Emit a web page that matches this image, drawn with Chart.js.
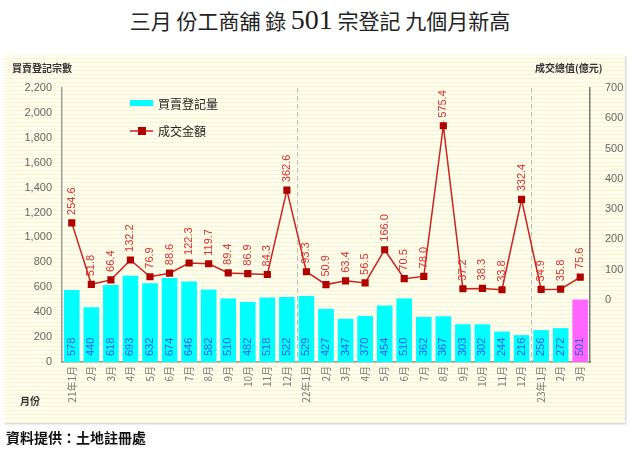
<!DOCTYPE html>
<html>
<head>
<meta charset="utf-8">
<script src="https://cdn.jsdelivr.net/npm/chart.js@4"></script>
<style>
  body { margin: 0; background: #fff; }
  #wrap { position: relative; width: 640px; height: 452px; overflow: hidden; }
  #panel { position: absolute; left: 4px; top: 55px; width: 621px; height: 368px;
    background: repeating-linear-gradient(to bottom, #fffeea 0px, #fffeea 3px, #f5f3da 3px, #f5f3da 4px);
    box-shadow: 1px 1px 2px #ccc; }
  #title { position: absolute; left: 0; top: 4px; width: 640px; text-align: center;
    font-family: "Noto Sans CJK TC", sans-serif; font-size: 21px; color: #222; }
  #title .num { font-family: "Liberation Serif", serif; font-size: 28px; }
  #foot { position: absolute; left: 6px; top: 427px; font-family: "Noto Sans CJK TC", sans-serif;
    font-size: 14px; font-weight: bold; color: #111; }
  canvas { position: absolute; left: 0; top: 0; }
</style>
</head>
<body>
<div id="wrap">
  <div id="panel"></div>
  <div id="title">三月 份工商舖 錄 <span class="num">501</span> 宗登記 九個月新高</div>
  <canvas id="chart" width="640" height="452"></canvas>
  <div id="foot">資料提供：土地註冊處</div>
</div>
<script>
// months
var months = ["21年1月","2月","3月","4月","5月","6月","7月","8月","9月","10月","11月","12月",
              "22年1月","2月","3月","4月","5月","6月","7月","8月","9月","10月","11月","12月",
              "23年1月","2月","3月"];
// 買賣登記量 (宗)
var registrations = [578,440,618,693,632,674,646,582,510,482,518,522,
                     529,427,347,370,454,510,362,367,303,302,244,216,
                     256,272,501];
// 成交金額 (億元)
var amounts = [254.6,51.8,66.4,132.2,76.9,88.6,122.3,119.7,89.4,86.9,84.3,362.6,
               93.3,50.9,63.4,56.5,166.0,70.5,78.0,575.4,37.2,38.3,33.8,332.4,
               34.9,35.8,75.6];
var leftTicks = [0,200,400,600,800,1000,1200,1400,1600,1800,2000,2200];
var rightTicks = [0,100,200,300,400,500,600,700];
var yearBreaks = [11, 23];

var barColors = registrations.map(function (v, i) {
  return i === registrations.length - 1 ? '#ff66ff' : '#00ffff';
});

var sansFont = '"Liberation Sans", Arial, sans-serif';
var cjkFont = '"Noto Sans CJK TC", sans-serif';

var extras = {
  id: 'extras',
  beforeDatasetsDraw: function (chart) {
    var ctx = chart.ctx, x = chart.scales.x, area = chart.chartArea;
    ctx.save();
    ctx.strokeStyle = '#bbbbbb';
    ctx.setLineDash([5, 3]);
    ctx.lineWidth = 1;
    yearBreaks.forEach(function (i) {
      var px = Math.round((x.getPixelForValue(i) + x.getPixelForValue(i + 1)) / 2) + 0.5;
      ctx.beginPath();
      ctx.moveTo(px, area.top);
      ctx.lineTo(px, area.bottom);
      ctx.stroke();
    });
    ctx.restore();
  },
  afterDatasetsDraw: function (chart) {
    var ctx = chart.ctx;
    var bars = chart.getDatasetMeta(0).data;
    var pts = chart.getDatasetMeta(1).data;
    ctx.save();
    ctx.font = '11px ' + sansFont;
    // bar labels
    ctx.fillStyle = '#2a5cf0';
    ctx.textAlign = 'left';
    ctx.textBaseline = 'middle';
    bars.forEach(function (b, i) {
      ctx.save();
      ctx.translate(b.x, chart.chartArea.bottom - 6);
      ctx.rotate(-Math.PI / 2);
      ctx.fillText(String(registrations[i]), 0, 0);
      ctx.restore();
    });
    // line labels
    ctx.fillStyle = '#e03030';
    pts.forEach(function (p, i) {
      ctx.save();
      ctx.translate(p.x, p.y - 8);
      ctx.rotate(-Math.PI / 2);
      ctx.fillText(amounts[i].toFixed(1), 0, 0);
      ctx.restore();
    });
    // legend
    ctx.fillStyle = '#00ffff';
    ctx.fillRect(130, 100, 23, 6);
    ctx.strokeStyle = '#cc2222';
    ctx.lineWidth = 1.5;
    ctx.beginPath();
    ctx.moveTo(130, 131);
    ctx.lineTo(153, 131);
    ctx.stroke();
    ctx.fillStyle = '#b00000';
    ctx.fillRect(138, 127, 8, 8);
    ctx.fillStyle = '#222';
    ctx.font = '12px ' + cjkFont;
    ctx.textAlign = 'left';
    ctx.fillText('買賣登記量', 158, 104);
    ctx.fillText('成交金額', 158, 131);
    // axis titles
    ctx.font = 'bold 10px ' + cjkFont;
    ctx.fillStyle = '#333';
    ctx.fillText('買賣登記宗數', 12, 68);
    ctx.fillText('成交總值(億元)', 535, 68);
    ctx.fillText('月份', 20, 401);
    ctx.restore();
  }
};

new Chart(document.getElementById('chart'), {
  type: 'bar',
  data: {
    labels: months,
    datasets: [{
      label: '買賣登記量',
      data: registrations,
      backgroundColor: barColors,
      borderWidth: 0,
      barPercentage: 0.8,
      categoryPercentage: 1,
      yAxisID: 'y',
      order: 2
    }, {
      type: 'line',
      label: '成交金額',
      data: amounts,
      borderColor: '#cc2222',
      borderWidth: 1.5,
      backgroundColor: '#b00000',
      pointBackgroundColor: '#b00000',
      pointBorderColor: '#b00000',
      pointStyle: 'rect',
      pointRadius: 4,
      tension: 0,
      yAxisID: 'y1',
      order: 1
    }]
  },
  options: {
    responsive: false,
    animation: false,
    layout: { padding: { top: 88, left: 0, right: 0, bottom: 0 } },
    plugins: { legend: { display: false }, tooltip: { enabled: false } },
    scales: {
      x: {
        grid: { display: false, drawTicks: false },
        border: { color: '#999', width: 1.5 },
        ticks: { color: '#777', font: { size: 10, family: cjkFont }, minRotation: 90, maxRotation: 90, autoSkip: false, padding: 4 },
        afterFit: function (s) { s.height = 90; }
      },
      y: {
        position: 'left',
        min: 0, max: 2200,
        grid: { display: false, drawTicks: false },
        border: { color: '#999', width: 1.5 },
        ticks: { color: '#666', font: { size: 11, family: sansFont }, padding: 10,
          callback: function (v) { return v.toLocaleString('en-US'); } },
        afterBuildTicks: function (s) { s.ticks = leftTicks.map(function (v) { return { value: v }; }); },
        afterFit: function (s) { s.width = 62; }
      },
      y1: {
        position: 'right',
        min: -204.7, max: 700,
        grid: { display: false, drawTicks: false },
        border: { color: '#777', width: 1.5 },
        ticks: { color: '#666', font: { size: 11, family: sansFont }, padding: 15 },
        afterBuildTicks: function (s) { s.ticks = rightTicks.map(function (v) { return { value: v }; }); },
        afterFit: function (s) { s.width = 50; }
      }
    }
  },
  plugins: [extras]
});
</script>
</body>
</html>
